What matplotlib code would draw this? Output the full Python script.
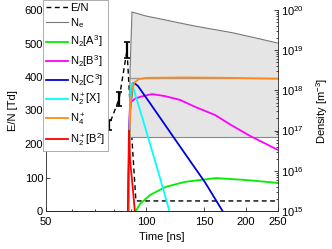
import numpy as np
import matplotlib
matplotlib.use('Agg')
import matplotlib.pyplot as plt
from matplotlib.ticker import FixedLocator, ScalarFormatter, NullFormatter, LogLocator

plt.rcParams['font.family'] = ['Liberation Sans', 'DejaVu Sans']
plt.rcParams['font.size'] = 8
plt.rcParams['mathtext.fontset'] = 'custom'
plt.rcParams['mathtext.rm'] = 'Liberation Sans'
plt.rcParams['mathtext.it'] = 'Liberation Sans:italic'
plt.rcParams['mathtext.default'] = 'regular'

# E/N with error bars
t_en = [73.0, 77.5, 83.0, 87.7, 90.8, 93.3, 250.0]
en = [200, 257, 334, 480, 212, 30, 30]
en_err = [12, 15, 20, 24, 0, 0, 0]

# electron density (upper edge of grey band), lower edge, middle line
t_ne = [89.0, 89.6, 90.8, 100, 115, 140, 183, 215, 250]
ne = [7.1e16, 3.2e18, 8.9e19, 7.1e19, 5.6e19, 4.0e19, 2.7e19, 2.0e19, 1.5e19]
ne_low = 7.1e16
ne_mid = 2.0e18

t_a3 = [92.5, 96.0, 102.9, 114.9, 131.0, 145.5, 162.4, 200, 250]
n_a3 = [9e14, 1.5e15, 2.5e15, 4.0e15, 5.3e15, 5.9e15, 6.6e15, 5.9e15, 5.0e15]

t_b3 = [88.6, 89.0, 89.6, 92.7, 96.0, 104.3, 114.2, 126.7, 140.6, 161.4, 180.5, 205.8, 250]
n_b3 = [9e14, 1e17, 4.9e17, 6.2e17, 6.9e17, 8.1e17, 7.2e17, 5.8e17, 3.9e17, 2.45e17,
        1.38e17, 7.4e16, 3.3e16]

t_c3 = [88.3, 89.5, 91.4, 93.0, 94.6, 102.9, 114.9, 131.0, 150.6, 171.5]
n_c3 = [9e14, 3e17, 1.5e18, 1.45e18, 1.29e18, 4.8e17, 1.29e17, 2.7e16, 5.2e15, 9e14]

t_x = [88.3, 89.8, 90.8, 92.0, 99.4, 108.7, 118.1]
n_x = [9e14, 1e18, 1.5e18, 1.02e18, 1.23e17, 1e16, 9e14]

t_n4 = [88.5, 89.3, 90.2, 91, 92.5, 95, 100, 130, 180, 250]
n_n4 = [9e14, 1e17, 6e17, 1.1e18, 1.6e18, 1.9e18, 2.05e18, 2.1e18, 2.05e18, 1.95e18]

t_b2 = [88.2, 88.9, 89.6, 91.1, 92.7]
n_b2 = [9e14, 1e17, 1.8e16, 4.5e15, 9e14]

fig = plt.figure(figsize=(3.32, 2.49), dpi=100)
ax1 = fig.add_axes([46/332, 1-211/249, 232/332, 201/249])
ax2 = ax1.twinx()

ax1.set_xscale('log')
ax1.set_xlim(50, 250)
ax1.set_ylim(0, 600)
ax2.set_yscale('log')
ax2.set_ylim(1e15, 1e20)

# E/N
l_en, = ax1.plot(t_en, en, color='k', lw=1.0, dashes=(3.5, 2.5))
idx = [i for i, e in enumerate(en_err) if e > 0]
ax1.errorbar([t_en[i] for i in idx], [en[i] for i in idx], yerr=[en_err[i] for i in idx],
             fmt='none', ecolor='k', elinewidth=1.6, capsize=2.2, capthick=1.2)

# densities
ax2.fill_between(t_ne, ne_low, ne, color='#e5e5e5', lw=0)
l_ne, = ax2.plot(t_ne, ne, color='#777777', lw=0.8)
ax2.plot([t_ne[0], 250], [ne_low, ne_low], color='#888888', lw=0.8)
ax2.plot([t_ne[1], 250], [ne_mid, ne_mid], color='#999999', lw=1.0)
l_a3, = ax2.plot(t_a3, n_a3, color='#00ee00', lw=1.3)
l_b3, = ax2.plot(t_b3, n_b3, color='#ff00ff', lw=1.3)
l_c3, = ax2.plot(t_c3, n_c3, color='#0000dd', lw=1.3)
l_x, = ax2.plot(t_x, n_x, color='#00ffff', lw=1.3)
l_n4, = ax2.plot(t_n4, n_n4, color='#ff8a1c', lw=1.3)
l_b2, = ax2.plot(t_b2, n_b2, color='#ff0000', lw=1.3)

# ticks
ax1.xaxis.set_major_locator(FixedLocator([50, 100, 150, 200, 250]))
ax1.xaxis.set_major_formatter(ScalarFormatter())
ax1.xaxis.set_minor_locator(FixedLocator([60, 70, 80, 90]))
ax1.xaxis.set_minor_formatter(NullFormatter())
ax1.set_yticks([0, 100, 200, 300, 400, 500, 600])
ax2.yaxis.set_major_locator(LogLocator(base=10, numticks=10))
ax2.yaxis.set_minor_locator(LogLocator(base=10, subs=np.arange(2, 10), numticks=20))
ax2.yaxis.set_minor_formatter(NullFormatter())

spine_col = '#262626'
for ax in (ax1, ax2):
    ax.spines['top'].set_visible(False)
    for s in ax.spines.values():
        s.set_color(spine_col)
        s.set_linewidth(0.6)
    ax.tick_params(which='both', direction='in', colors=spine_col, labelcolor='k', width=0.6)
    ax.tick_params(which='major', length=3, pad=2)
    ax.tick_params(which='minor', length=1.8)
ax1.spines['right'].set_visible(False)
ax2.spines['left'].set_visible(False)
ax1.tick_params(axis='x', pad=4)

ax1.set_xlabel('Time [ns]', labelpad=4)
ax1.set_ylabel('E/N [Td]', labelpad=5)
ax2.set_ylabel('Density [m$^{-3}$]', labelpad=8)

handles = [l_en, l_ne, l_a3, l_b3, l_c3, l_x, l_n4, l_b2]
labels = ['E/N', r'N$_{\rm e}$', 'N$_2$[A$^3$]', 'N$_2$[B$^3$]', 'N$_2$[C$^3$]',
          'N$_2^+$[X]', 'N$_4^+$', 'N$_2^+$[B$^2$]']
leg = ax2.legend(handles, labels, loc='upper left', bbox_to_anchor=(-3/232, 1+10/201),
                 borderaxespad=0, fancybox=False, framealpha=1, edgecolor='#a0a0a0',
                 handlelength=2.0, handletextpad=0.15, labelspacing=0.32, borderpad=0.25,
                 fontsize=8)
leg.get_frame().set_linewidth(0.6)

fig.savefig('out.png', dpi=100)
